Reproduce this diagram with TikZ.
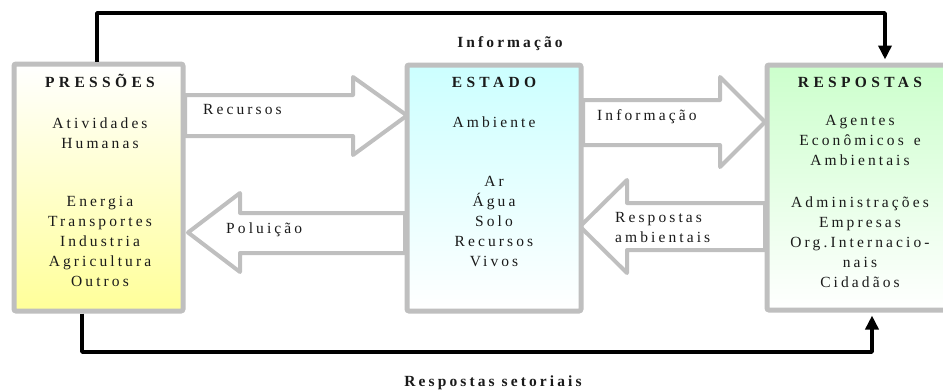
\documentclass[tikz,border=0pt]{standalone}
\usepackage{fontspec}
\setmainfont{Liberation Serif}
\newfontfamily\spc[LetterSpace=20]{Liberation Serif}
\newfontfamily\spcb[LetterSpace=28]{Liberation Serif Bold}
\newfontfamily\spcc[LetterSpace=20]{Liberation Serif Bold}
\usetikzlibrary{arrows.meta}
\definecolor{bordergray}{HTML}{BFBFBF}
\definecolor{yelbot}{HTML}{FFFF99}
\definecolor{cyantop}{HTML}{CCFFFF}
\definecolor{greentop}{HTML}{CCFFCC}
\definecolor{ink}{HTML}{1A1A1A}
\tikzset{
  box/.style={draw=bordergray, line width=5pt, rounded corners=2pt, inner sep=0pt},
  fatarrow/.style={draw=bordergray, fill=white, line width=4pt, line join=round},
  txt/.style={font=\spc\fontsize{15.5}{20}\selectfont, text=ink, align=center, inner sep=0pt, anchor=north},
  lbl/.style={font=\spc\fontsize{15.5}{20}\selectfont, text=ink, align=left, inner sep=0pt, anchor=north west},
  ttl/.style={font=\spcb\fontsize{15.5}{20}\selectfont, text=ink, inner sep=0pt, anchor=base},
  flowlbl/.style={font=\spcc\fontsize{15.5}{20}\selectfont, text=ink, inner sep=0pt, anchor=base},
  flow/.style={line width=3.5pt, line join=round, -{Triangle[width=13pt,length=14pt]}}
}
\begin{document}
\begin{tikzpicture}[x=1pt,y=-1pt]
\useasboundingbox (0,0) rectangle (943,389);
\clip (0,0) rectangle (943,389);

% wide arrows
\draw[fatarrow] (185,95) -- (353,95) -- (353,77) -- (407,115.5) -- (353,155) -- (353,136) -- (185,136) -- cycle;
\draw[fatarrow] (405,213) -- (240,213) -- (240,193) -- (188,232.5) -- (240,272) -- (240,253) -- (405,253) -- cycle;
\draw[fatarrow] (583,100) -- (720,100) -- (720,77) -- (765,122) -- (720,167) -- (720,145) -- (583,145) -- cycle;
\draw[fatarrow] (765,203) -- (627,203) -- (627,180) -- (580,226.5) -- (627,273) -- (627,250) -- (765,250) -- cycle;

% boxes
\node[box, top color=white, bottom color=yelbot, minimum width=169pt, minimum height=247pt] (press) at (98.5,187.5) {};
\node[box, top color=cyantop, bottom color=white, minimum width=174pt, minimum height=246pt] (estado) at (494,188) {};
\node[box, top color=greentop, bottom color=white, minimum width=188pt, minimum height=245pt] (resp) at (861,187.5) {};

% box texts
\node[ttl] (pt) at (100,87) {PRESSÕES};
\node[txt] (p1) at (100,117.5) {Atividades\\Humanas};
\node[txt] (p2) at (100,196.5) {Energia\\Transportes\\Industria\\Agricultura\\Outros};

\node[ttl] (et) at (494,87) {ESTADO};
\node[txt] (e1) at (494,116.5) {Ambiente};
\node[txt] (e2) at (494,176.5) {Ar\\Água\\Solo\\Recursos\\Vivos};

\node[ttl] (rt) at (860,87) {RESPOSTAS};
\node[txt] (r1) at (860,115.5) {Agentes\\Econômicos\hspace{3pt} e\\Ambientais};
\node[txt] (r2) at (860,196.5) {Administrações\\Empresas\\Org.Internacio-\\nais\\Cidadãos};

% arrow labels
\node[lbl] (l1) at (203,104.5) {Recursos};
\node[lbl] (l2) at (226,222.5) {Poluição};
\node[lbl] (l3) at (597,109.5) {Informação};
\node[lbl] (l4) at (615,212.5) {Respostas\\ambientais};

% black feedback connectors
\coordinate (c1) at (97,13);
\coordinate (c2) at (885,13);
\coordinate (c3) at (82,352);
\coordinate (c4) at (872,352);
\draw[flow] (press.north -| c1) |- (c2) -- ([yshift=3pt]resp.north -| c2);
\draw[flow] (press.south -| c3) |- (c4) -- ([yshift=-3pt]resp.south -| c4);
\node[flowlbl] (ti) at (510,47) {Informação};
\node[flowlbl] (bi) at (493,386) {Respostas setoriais};
\end{tikzpicture}
\end{document}
